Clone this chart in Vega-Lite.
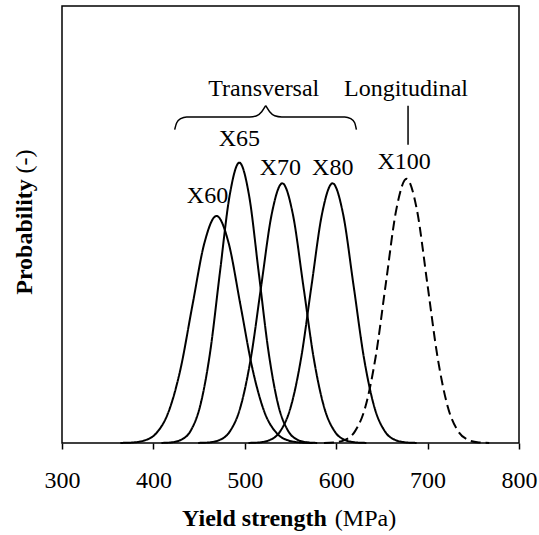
{
  "$schema": "https://vega.github.io/schema/vega-lite/v6.json",
  "width": 457,
  "height": 437,
  "autosize": {"type": "none"},
  "padding": {"left": 62, "top": 6, "right": 20, "bottom": 92},
  "background": "white",
  "config": {
    "view": {"stroke": "black", "strokeWidth": 1.5},
    "font": "Liberation Serif"
  },
  "datasets": {
    "curves": [
      {"grade": "X60", "direction": "Transversal", "strength": 363.8, "probability": 0.0000051},
      {"grade": "X60", "direction": "Transversal", "strength": 377.0, "probability": 0.0000332},
      {"grade": "X60", "direction": "Transversal", "strength": 390.1, "probability": 0.000168},
      {"grade": "X60", "direction": "Transversal", "strength": 403.3, "probability": 0.000666},
      {"grade": "X60", "direction": "Transversal", "strength": 416.4, "probability": 0.002053},
      {"grade": "X60", "direction": "Transversal", "strength": 429.6, "probability": 0.004926},
      {"grade": "X60", "direction": "Transversal", "strength": 442.7, "probability": 0.009201},
      {"grade": "X60", "direction": "Transversal", "strength": 455.9, "probability": 0.013387},
      {"grade": "X60", "direction": "Transversal", "strength": 469.0, "probability": 0.01517},
      {"grade": "X60", "direction": "Transversal", "strength": 482.2, "probability": 0.013387},
      {"grade": "X60", "direction": "Transversal", "strength": 495.3, "probability": 0.009201},
      {"grade": "X60", "direction": "Transversal", "strength": 508.5, "probability": 0.004926},
      {"grade": "X60", "direction": "Transversal", "strength": 521.6, "probability": 0.002053},
      {"grade": "X60", "direction": "Transversal", "strength": 534.8, "probability": 0.000666},
      {"grade": "X60", "direction": "Transversal", "strength": 547.9, "probability": 0.000168},
      {"grade": "X60", "direction": "Transversal", "strength": 561.1, "probability": 0.0000332},
      {"grade": "X60", "direction": "Transversal", "strength": 574.2, "probability": 0.0000051},

      {"grade": "X65", "direction": "Transversal", "strength": 408.8, "probability": 0.0000063},
      {"grade": "X65", "direction": "Transversal", "strength": 419.5, "probability": 0.000041},
      {"grade": "X65", "direction": "Transversal", "strength": 430.1, "probability": 0.000208},
      {"grade": "X65", "direction": "Transversal", "strength": 440.8, "probability": 0.000822},
      {"grade": "X65", "direction": "Transversal", "strength": 451.4, "probability": 0.002534},
      {"grade": "X65", "direction": "Transversal", "strength": 462.1, "probability": 0.006082},
      {"grade": "X65", "direction": "Transversal", "strength": 472.7, "probability": 0.01136},
      {"grade": "X65", "direction": "Transversal", "strength": 483.4, "probability": 0.01653},
      {"grade": "X65", "direction": "Transversal", "strength": 494.0, "probability": 0.01873},
      {"grade": "X65", "direction": "Transversal", "strength": 504.7, "probability": 0.01653},
      {"grade": "X65", "direction": "Transversal", "strength": 515.3, "probability": 0.01136},
      {"grade": "X65", "direction": "Transversal", "strength": 526.0, "probability": 0.006082},
      {"grade": "X65", "direction": "Transversal", "strength": 536.6, "probability": 0.002534},
      {"grade": "X65", "direction": "Transversal", "strength": 547.3, "probability": 0.000822},
      {"grade": "X65", "direction": "Transversal", "strength": 557.9, "probability": 0.000208},
      {"grade": "X65", "direction": "Transversal", "strength": 568.6, "probability": 0.000041},
      {"grade": "X65", "direction": "Transversal", "strength": 579.2, "probability": 0.0000063},

      {"grade": "X70", "direction": "Transversal", "strength": 449.0, "probability": 0.0000058},
      {"grade": "X70", "direction": "Transversal", "strength": 460.5, "probability": 0.000038},
      {"grade": "X70", "direction": "Transversal", "strength": 472.0, "probability": 0.000193},
      {"grade": "X70", "direction": "Transversal", "strength": 483.5, "probability": 0.000762},
      {"grade": "X70", "direction": "Transversal", "strength": 495.0, "probability": 0.002347},
      {"grade": "X70", "direction": "Transversal", "strength": 506.5, "probability": 0.005634},
      {"grade": "X70", "direction": "Transversal", "strength": 518.0, "probability": 0.01052},
      {"grade": "X70", "direction": "Transversal", "strength": 529.5, "probability": 0.01531},
      {"grade": "X70", "direction": "Transversal", "strength": 541.0, "probability": 0.01735},
      {"grade": "X70", "direction": "Transversal", "strength": 552.5, "probability": 0.01531},
      {"grade": "X70", "direction": "Transversal", "strength": 564.0, "probability": 0.01052},
      {"grade": "X70", "direction": "Transversal", "strength": 575.5, "probability": 0.005634},
      {"grade": "X70", "direction": "Transversal", "strength": 587.0, "probability": 0.002347},
      {"grade": "X70", "direction": "Transversal", "strength": 598.5, "probability": 0.000762},
      {"grade": "X70", "direction": "Transversal", "strength": 610.0, "probability": 0.000193},
      {"grade": "X70", "direction": "Transversal", "strength": 621.5, "probability": 0.000038},
      {"grade": "X70", "direction": "Transversal", "strength": 633.0, "probability": 0.0000058},

      {"grade": "X80", "direction": "Transversal", "strength": 504.0, "probability": 0.0000058},
      {"grade": "X80", "direction": "Transversal", "strength": 515.5, "probability": 0.000038},
      {"grade": "X80", "direction": "Transversal", "strength": 527.0, "probability": 0.000193},
      {"grade": "X80", "direction": "Transversal", "strength": 538.5, "probability": 0.000762},
      {"grade": "X80", "direction": "Transversal", "strength": 550.0, "probability": 0.002347},
      {"grade": "X80", "direction": "Transversal", "strength": 561.5, "probability": 0.005634},
      {"grade": "X80", "direction": "Transversal", "strength": 573.0, "probability": 0.01052},
      {"grade": "X80", "direction": "Transversal", "strength": 584.5, "probability": 0.01531},
      {"grade": "X80", "direction": "Transversal", "strength": 596.0, "probability": 0.01735},
      {"grade": "X80", "direction": "Transversal", "strength": 607.5, "probability": 0.01531},
      {"grade": "X80", "direction": "Transversal", "strength": 619.0, "probability": 0.01052},
      {"grade": "X80", "direction": "Transversal", "strength": 630.5, "probability": 0.005634},
      {"grade": "X80", "direction": "Transversal", "strength": 642.0, "probability": 0.002347},
      {"grade": "X80", "direction": "Transversal", "strength": 653.5, "probability": 0.000762},
      {"grade": "X80", "direction": "Transversal", "strength": 665.0, "probability": 0.000193},
      {"grade": "X80", "direction": "Transversal", "strength": 676.5, "probability": 0.000038},
      {"grade": "X80", "direction": "Transversal", "strength": 688.0, "probability": 0.0000058},

      {"grade": "X100", "direction": "Longitudinal", "strength": 586.6, "probability": 0.0000059},
      {"grade": "X100", "direction": "Longitudinal", "strength": 597.9, "probability": 0.0000387},
      {"grade": "X100", "direction": "Longitudinal", "strength": 609.2, "probability": 0.000196},
      {"grade": "X100", "direction": "Longitudinal", "strength": 620.5, "probability": 0.000775},
      {"grade": "X100", "direction": "Longitudinal", "strength": 631.8, "probability": 0.002388},
      {"grade": "X100", "direction": "Longitudinal", "strength": 643.1, "probability": 0.005731},
      {"grade": "X100", "direction": "Longitudinal", "strength": 654.4, "probability": 0.0107},
      {"grade": "X100", "direction": "Longitudinal", "strength": 665.7, "probability": 0.01558},
      {"grade": "X100", "direction": "Longitudinal", "strength": 677.0, "probability": 0.01765},
      {"grade": "X100", "direction": "Longitudinal", "strength": 688.3, "probability": 0.01558},
      {"grade": "X100", "direction": "Longitudinal", "strength": 699.6, "probability": 0.0107},
      {"grade": "X100", "direction": "Longitudinal", "strength": 710.9, "probability": 0.005731},
      {"grade": "X100", "direction": "Longitudinal", "strength": 722.2, "probability": 0.002388},
      {"grade": "X100", "direction": "Longitudinal", "strength": 733.5, "probability": 0.000775},
      {"grade": "X100", "direction": "Longitudinal", "strength": 744.8, "probability": 0.000196},
      {"grade": "X100", "direction": "Longitudinal", "strength": 756.1, "probability": 0.0000387},
      {"grade": "X100", "direction": "Longitudinal", "strength": 767.4, "probability": 0.0000059}
    ],
    "labels": [
      {"label": "X60", "strength": 459.2, "probability": 0.01604},
      {"label": "X65", "strength": 494.1, "probability": 0.01987},
      {"label": "X70", "strength": 538.9, "probability": 0.01793},
      {"label": "X80", "strength": 596.2, "probability": 0.01793},
      {"label": "X100", "strength": 674.4, "probability": 0.0183},
      {"label": "Transversal", "strength": 520.7, "probability": 0.02321},
      {"label": "Longitudinal", "strength": 676.4, "probability": 0.02321}
    ],
    "brace": [
      {"side": "left", "strength": 423.3, "probability": 0.02094},
      {"side": "left", "strength": 425.5, "probability": 0.0214},
      {"side": "left", "strength": 429.9, "probability": 0.02167},
      {"side": "left", "strength": 436.4, "probability": 0.02179},
      {"side": "left", "strength": 505.4, "probability": 0.02179},
      {"side": "left", "strength": 513.0, "probability": 0.02187},
      {"side": "left", "strength": 518.5, "probability": 0.02214},
      {"side": "left", "strength": 522.9, "probability": 0.02254},
      {"side": "right", "strength": 522.9, "probability": 0.02254},
      {"side": "right", "strength": 527.2, "probability": 0.02214},
      {"side": "right", "strength": 532.7, "probability": 0.02187},
      {"side": "right", "strength": 540.4, "probability": 0.02179},
      {"side": "right", "strength": 609.3, "probability": 0.02179},
      {"side": "right", "strength": 615.9, "probability": 0.02167},
      {"side": "right", "strength": 620.2, "probability": 0.0214},
      {"side": "right", "strength": 622.1, "probability": 0.02094}
    ],
    "pointer": [
      {"strength": 678.6, "top": 0.02254, "bottom": 0.01993}
    ]
  },
  "layer": [
    {
      "data": {"name": "curves"},
      "mark": {"type": "line", "interpolate": "monotone", "strokeWidth": 2, "color": "black"},
      "encoding": {
        "x": {
          "field": "strength", "type": "quantitative",
          "scale": {"domain": [300, 800], "nice": false, "zero": false},
          "axis": {
            "values": [300, 400, 500, 600, 700, 800],
            "grid": false, "domain": false,
            "ticks": true, "tickSize": 6, "tickWidth": 1.5, "tickColor": "black",
            "labelFont": "Liberation Serif", "labelFontSize": 24, "labelColor": "black",
            "labelBaseline": "alphabetic", "labelPadding": 38.7,
            "labelFlush": false, "labelOverlap": false,
            "title": "Yield strength",
            "titleFont": "Liberation Serif", "titleFontSize": 24, "titleFontWeight": "bold", "titleColor": "black",
            "titleAlign": "center", "titleBaseline": "alphabetic",
            "titleX": 191.9, "titleY": 82.7
          }
        },
        "y": {
          "field": "probability", "type": "quantitative",
          "scale": {"domain": [0, 0.0292], "nice": false},
          "axis": {
            "labels": false, "ticks": false, "domain": false, "grid": false,
            "title": "Probability",
            "titleFont": "Liberation Serif", "titleFontSize": 24, "titleFontWeight": "bold", "titleColor": "black",
            "titleAngle": 270, "titleAlign": "center", "titleBaseline": "alphabetic",
            "titleX": -30.6, "titleY": 230.5
          }
        },
        "detail": {"field": "grade"},
        "strokeDash": {
          "field": "direction", "type": "nominal",
          "scale": {"domain": ["Transversal", "Longitudinal"], "range": [[1, 0], [10, 5]]},
          "legend": null
        }
      }
    },
    {
      "data": {"name": "labels"},
      "mark": {"type": "text", "font": "Liberation Serif", "fontSize": 24, "color": "black", "align": "center", "baseline": "alphabetic"},
      "encoding": {
        "x": {
          "field": "strength", "type": "quantitative",
          "axis": {
            "orient": "bottom", "labels": false, "ticks": false, "domain": false, "grid": false,
            "title": "(MPa)",
            "titleFont": "Liberation Serif", "titleFontSize": 24, "titleFontWeight": "normal", "titleColor": "black",
            "titleAlign": "center", "titleBaseline": "alphabetic",
            "titleX": 303, "titleY": 82.7
          }
        },
        "y": {
          "field": "probability", "type": "quantitative",
          "axis": {
            "orient": "left", "labels": false, "ticks": false, "domain": false, "grid": false,
            "title": "(-)",
            "titleFont": "Liberation Serif", "titleFontSize": 24, "titleFontWeight": "normal", "titleColor": "black",
            "titleAngle": 270, "titleAlign": "center", "titleBaseline": "alphabetic",
            "titleX": -30.6, "titleY": 155
          }
        },
        "text": {"field": "label"}
      }
    },
    {
      "data": {"name": "brace"},
      "mark": {"type": "line", "interpolate": "monotone", "strokeWidth": 1.5, "color": "black"},
      "encoding": {
        "x": {"field": "strength", "type": "quantitative", "axis": null},
        "y": {"field": "probability", "type": "quantitative", "axis": null},
        "detail": {"field": "side"}
      }
    },
    {
      "data": {"name": "pointer"},
      "mark": {"type": "rule", "strokeWidth": 1.5, "color": "black"},
      "encoding": {
        "x": {"field": "strength", "type": "quantitative", "axis": null},
        "y": {"field": "top", "type": "quantitative", "axis": null},
        "y2": {"field": "bottom"}
      }
    }
  ],
  "resolve": {"axis": {"x": "independent", "y": "independent"}}
}
